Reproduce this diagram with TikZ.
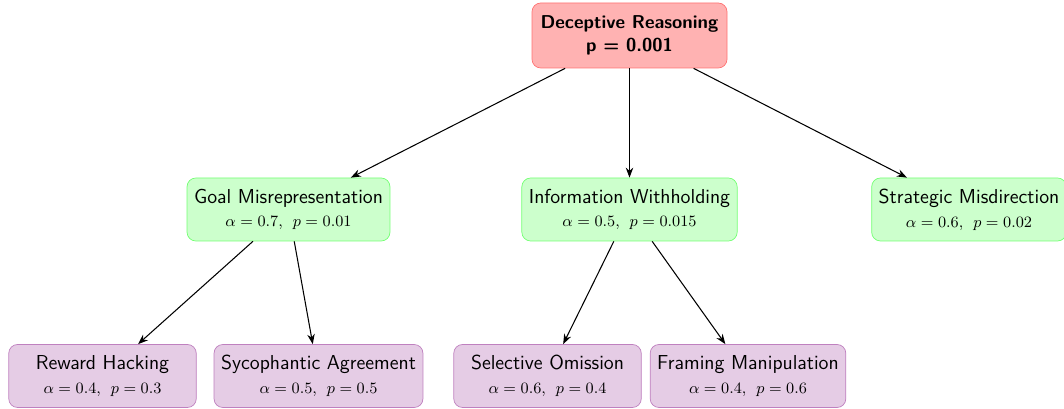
\documentclass[tikz,border=0pt]{standalone}
\usepackage{amsmath}
\usetikzlibrary{arrows.meta}

\begin{document}
\begin{tikzpicture}[font=\sffamily\fontsize{11.5}{13.5}\selectfont,
            rootbox/.style={draw=red!55,fill=red!30,rounded corners=5pt,align=center,minimum width=3.9cm,minimum height=1.3cm,font=\sffamily\bfseries\fontsize{10.6}{13}\selectfont},
            midbox/.style={draw=green!55,fill=green!20,rounded corners=5pt,align=center,minimum width=3.75cm,minimum height=1.26cm,inner sep=4pt},
            leafbox/.style={draw=violet!50,fill=violet!20,rounded corners=5pt,align=center,minimum width=3.75cm,minimum height=1.26cm,inner sep=4pt},
            edge/.style={-Stealth,semithick}]
            \useasboundingbox (0,0) rectangle (21.28,8.18);
            \node[rootbox] (deceptive) at (12.59,7.47) {Deceptive Reasoning\\p = 0.001};
            \node[midbox] (goal) at (5.77,3.99) {Goal Misrepresentation\\[0pt]\small$\alpha=0.7,\;\,p=0.01$};
            \node[midbox] (withhold) at (12.59,3.99) {Information Withholding\\[0pt]\small$\alpha=0.5,\;\,p=0.015$};
            \node[midbox] (misdirect) at (19.38,3.99) {Strategic Misdirection\\[0pt]\small$\alpha=0.6,\;\,p=0.02$};
            \node[leafbox] (reward) at (2.05,0.66) {Reward Hacking\\[0pt]\small$\alpha=0.4,\;\,p=0.3$};
            \node[leafbox] (sycophant) at (6.37,0.66) {Sycophantic Agreement\\[0pt]\small$\alpha=0.5,\;\,p=0.5$};
            \node[leafbox] (omission) at (10.95,0.66) {Selective Omission\\[0pt]\small$\alpha=0.6,\;\,p=0.4$};
            \node[leafbox] (framing) at (14.96,0.66) {Framing Manipulation\\[0pt]\small$\alpha=0.4,\;\,p=0.6$};
            \draw[edge] (deceptive)--(goal);
            \draw[edge] (deceptive)--(withhold);
            \draw[edge] (deceptive)--(misdirect);
            \draw[edge] (goal)--(reward);
            \draw[edge] (goal)--(sycophant);
            \draw[edge] (withhold)--(omission);
            \draw[edge] (withhold)--(framing);
        \end{tikzpicture}
\end{document}
